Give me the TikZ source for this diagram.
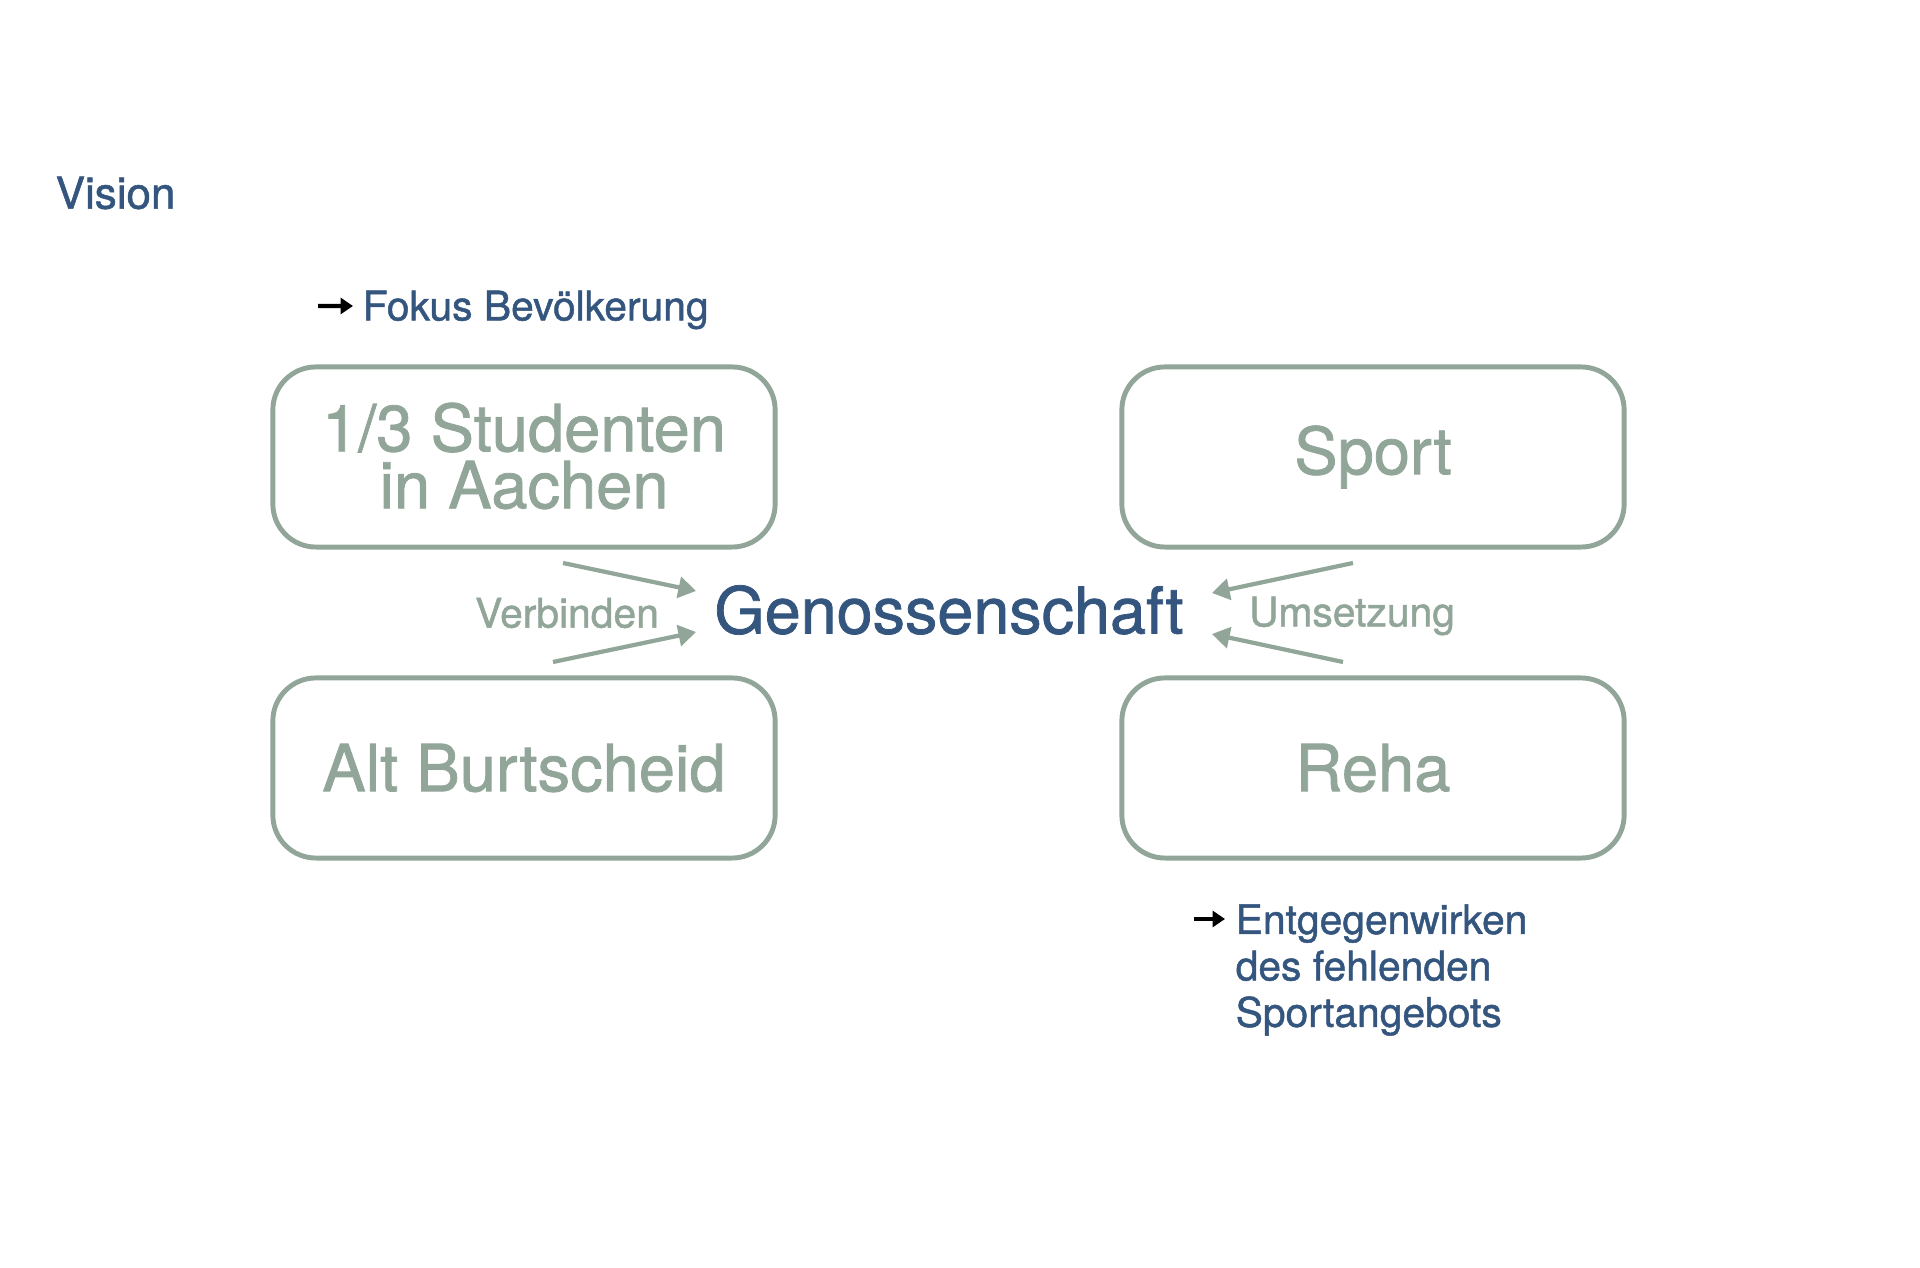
\documentclass[tikz,border=0pt]{standalone}
\usepackage{fontspec}
\setmainfont[FakeBold=1.2]{TeX Gyre Heros}
\usepackage{xcolor}
\usetikzlibrary{positioning}
\usetikzlibrary{arrows.meta}

\definecolor{salbei}{RGB}{145,166,152}
\definecolor{tinte}{RGB}{52,86,126}

\tikzset{
    feld/.style={draw=salbei, line width=1.4pt, rounded corners=0.43cm,
        minimum width=5.02cm, minimum height=1.8cm, text=salbei, align=center,
        font=\fontsize{18.5}{16.2}\selectfont},
    zeiger/.style={salbei, line width=1.2pt, -{Triangle[length=5pt,width=6pt]}},
    hinweis/.style={black, line width=1.2pt, -{Triangle[length=3.5pt,width=4.5pt]}},
    blau/.style={text=tinte, inner sep=0pt, font=\fontsize{11.6}{13.2}\selectfont},
    grau/.style={text=salbei, inner sep=0pt, font=\fontsize{11.6}{13.2}\selectfont}
}

\begin{document}
\begin{tikzpicture}[x=0.01cm, y=-0.01cm]
    \useasboundingbox (0,0) rectangle (1920,1268);
    % Titel
    \node[blau, anchor=west, font=\fontsize{12.5}{15}\selectfont] (titel) at (55,193) {Vision};
    % vier Felder
    \node[feld, text depth=0.03cm] (studenten) at (524,457) {1/3 Studenten\\in Aachen};
    \node[feld] (burtscheid) at (524,768) {Alt Burtscheid};
    \node[feld] (sport) at (1373,457) {Sport};
    \node[feld] (reha) at (1373,768) {Reha};
    % Mitte
    \node[text=tinte, inner sep=0pt, font=\fontsize{18.4}{22}\selectfont] (gen) at (949,610) {Genossenschaft};
    \node[grau] (verbinden) at (567,613) {Verbinden};
    \node[grau] (umsetzung) at (1352,616) {Umsetzung};
    % Pfeile links
    \coordinate (lo) at (563,563);
    \coordinate (lu) at (553,662);
    \coordinate (lo2) at (696,591);
    \coordinate (lu2) at (696,632);
    \draw[zeiger] (lo) -- (lo2);
    \draw[zeiger] (lu) -- (lu2);
    % Pfeile rechts
    \coordinate (ro) at (1353,563);
    \coordinate (ru) at (1343,662);
    \coordinate (ro2) at (1212,593);
    \coordinate (ru2) at (1212,634);
    \draw[zeiger] (ro) -- (ro2);
    \draw[zeiger] (ru) -- (ru2);
    % Hinweise
    \node[blau, anchor=west] (fokus) at (362,310) {Fokus Bevölkerung};
    \coordinate (fp) at (318,306);
    \draw[hinweis] (fp) -- ([xshift=-0.09cm,yshift=0.04cm]fokus.west);
    \node[blau, anchor=west, align=left] (entgegen) at (1235,970) {Entgegenwirken\\des fehlenden\\Sportangebots};
    \coordinate (ep) at (1194,919);
    \draw[hinweis] (ep) -- (1225,919);
\end{tikzpicture}
\end{document}
